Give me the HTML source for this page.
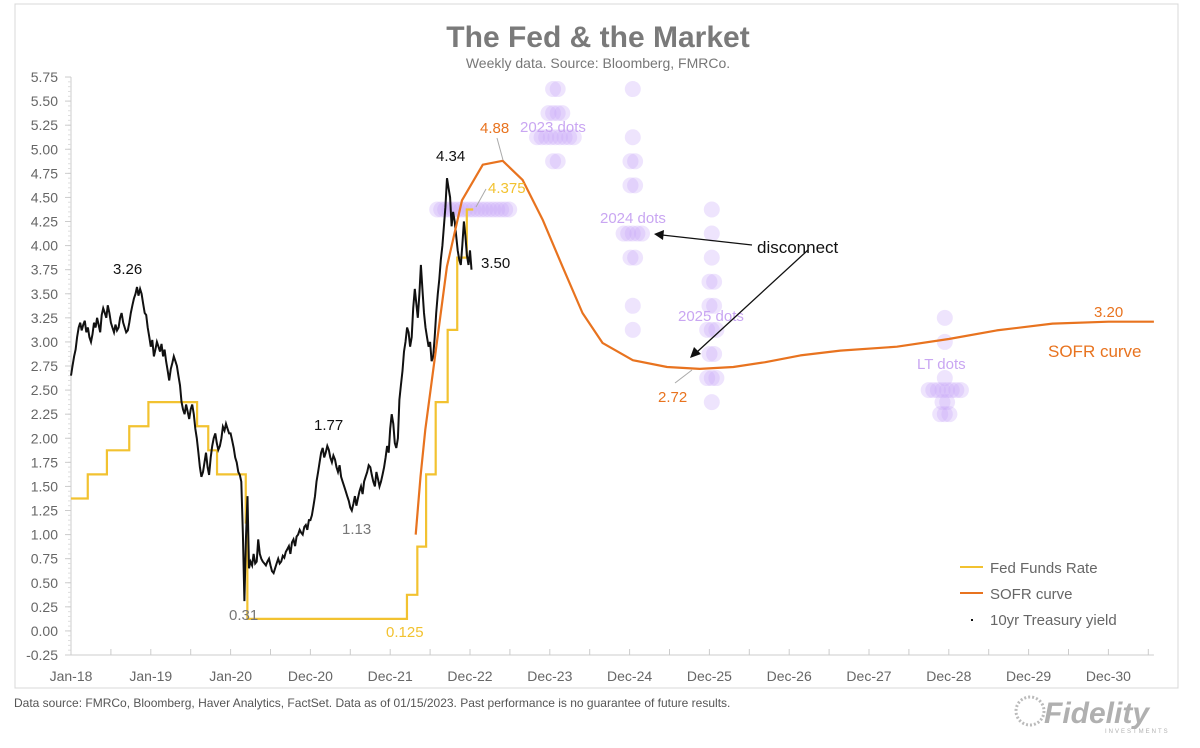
<!DOCTYPE html>
<html><head><meta charset="utf-8">
<style>
html,body{margin:0;padding:0;background:#fff;}
body{width:1200px;height:743px;overflow:hidden;position:relative;font-family:"Liberation Sans",sans-serif;}
svg text{font-family:"Liberation Sans",sans-serif;}
</style></head>
<body>
<svg id="chart" width="1200" height="743" viewBox="0 0 1200 743" xmlns="http://www.w3.org/2000/svg">
<rect x="15" y="4" width="1163" height="684" fill="none" stroke="#d8d8d8" stroke-width="1"/>
<text x="598" y="47" text-anchor="middle" font-size="30" font-weight="bold" fill="#7a7a7a">The Fed &amp; the Market</text>
<text x="598" y="68" text-anchor="middle" font-size="14" fill="#777">Weekly data.  Source: Bloomberg, FMRCo.</text>
<g id="axes"></g>
<g id="dots"></g>
<g id="series"></g>
<g id="annots">
<text x="113" y="274" font-size="15" fill="#111">3.26</text>
<text x="314" y="430" font-size="15" fill="#111">1.77</text>
<text x="342" y="534" font-size="15" fill="#777">1.13</text>
<text x="229" y="620" font-size="15" fill="#777">0.31</text>
<text x="386" y="637" font-size="15" fill="#f2c230">0.125</text>
<text x="436" y="161" font-size="15" fill="#111">4.34</text>
<line x1="486" y1="189" x2="476" y2="207" stroke="#aaa"/>
<text x="488" y="193" font-size="15" fill="#f2c230">4.375</text>
<text x="481" y="268" font-size="15" fill="#111">3.50</text>
<line x1="497" y1="138" x2="503" y2="160" stroke="#aaa"/>
<text x="480" y="133" font-size="15" fill="#e8731f">4.88</text>
<line x1="675" y1="383" x2="692" y2="370" stroke="#aaa"/>
<text x="658" y="402" font-size="15" fill="#e8731f">2.72</text>
<text x="1094" y="317" font-size="15" fill="#e8731f">3.20</text>
<text x="1048" y="357" font-size="17" fill="#e8731f">SOFR curve</text>
<text x="520" y="132" font-size="15" fill="#c9a6f2">2023 dots</text>
<text x="600" y="223" font-size="15" fill="#c9a6f2">2024 dots</text>
<text x="678" y="321" font-size="15" fill="#c9a6f2">2025 dots</text>
<text x="917" y="369" font-size="15" fill="#c9a6f2">LT dots</text>
<text x="757" y="253" font-size="17" fill="#111">disconnect</text>
<line x1="752" y1="245" x2="662" y2="235" stroke="#111" stroke-width="1.3"/>
<polygon points="654,234 664,230 663,240" fill="#111"/>
<line x1="808" y1="250" x2="697" y2="352" stroke="#111" stroke-width="1.3"/>
<polygon points="690,358 694,347 701,354" fill="#111"/>
</g>
<g id="legend">
<line x1="960" y1="567" x2="983" y2="567" stroke="#f2c230" stroke-width="2"/>
<text x="990" y="573" font-size="15" fill="#666">Fed Funds Rate</text>
<line x1="960" y1="593" x2="983" y2="593" stroke="#e8731f" stroke-width="2"/>
<text x="990" y="599" font-size="15" fill="#666">SOFR curve</text>
<rect x="971" y="619" width="2" height="2" fill="#111"/>
<text x="990" y="625" font-size="15" fill="#666">10yr Treasury yield</text>
</g>
<text x="14" y="707" font-size="12" fill="#555">Data source: FMRCo, Bloomberg, Haver Analytics, FactSet. Data as of 01/15/2023. Past performance is no guarantee of future results.</text>
<g>
<circle cx="1030" cy="711" r="14" fill="none" stroke="#bbb" stroke-width="3" stroke-dasharray="2 2"/>
<text x="1044" y="723" font-size="30" font-weight="bold" font-style="italic" fill="#b0b0b0">Fidelity</text>
<text x="1105" y="733" font-size="6" fill="#b0b0b0" letter-spacing="2">INVESTMENTS</text>
</g>
</svg>
<script>
const yTicks=[-0.25,0,0.25,0.5,0.75,1,1.25,1.5,1.75,2,2.25,2.5,2.75,3,3.25,3.5,3.75,4,4.25,4.5,4.75,5,5.25,5.5,5.75];
const xLabels=["Jan-18","Jan-19","Jan-20","Dec-20","Dec-21","Dec-22","Dec-23","Dec-24","Dec-25","Dec-26","Dec-27","Dec-28","Dec-29","Dec-30"];
const fedT=[0,0.21,0.45,0.73,0.97,1.58,1.72,1.83,2.19,2.21,4.21,4.34,4.45,4.57,4.72,4.84,4.96,5.04];
const fedV=[1.375,1.625,1.875,2.125,2.375,2.125,1.875,1.625,1.125,0.125,0.375,0.875,1.625,2.375,3.125,3.875,4.375,4.375];
const sofrT=[4.32,4.38,4.44,4.56,4.71,4.90,5.16,5.41,5.66,5.91,6.16,6.41,6.66,7.04,7.47,7.88,8.30,8.70,9.14,9.64,10.35,11.0,11.6,12.3,13.0,13.57];
const sofrV=[1.00,1.60,2.09,2.84,3.78,4.47,4.84,4.88,4.68,4.27,3.78,3.30,2.99,2.81,2.74,2.72,2.74,2.79,2.86,2.91,2.95,3.03,3.12,3.19,3.21,3.21];
const y2018=[2.65,2.75,2.85,2.92,3.05,3.15,3.20,3.12,3.18,3.22,3.10,3.15,3.05,3.00,3.08,3.20,3.15,3.25,3.18,3.10,3.28,3.35,3.30,3.25,3.38,3.30,3.20,3.15,3.10,3.18,3.12,3.15,3.25,3.30,3.20,3.15,3.10,3.12,3.20,3.30,3.38,3.45,3.50,3.57,3.48,3.55,3.50,3.40,3.30,3.28,3.15,3.05];
const y2019=[2.95,3.02,2.85,2.92,3.00,2.95,2.90,2.98,2.85,2.92,2.80,2.70,2.60,2.72,2.78,2.85,2.80,2.75,2.65,2.55,2.38,2.30,2.25,2.35,2.28,2.20,2.30,2.35,2.25,2.10,2.00,1.85,1.70,1.60,1.65,1.75,1.85,1.70,1.62,1.80,1.92,2.00,2.05,1.95,1.88,1.92,2.00,2.12,2.08,2.15,2.10,2.05];
const y2020=[2.05,1.98,1.90,1.80,1.75,1.65,1.62,1.55,1.00,0.31,0.95,1.40,0.65,0.72,0.68,0.80,0.70,0.72,0.95,0.80,0.75,0.72,0.70,0.68,0.72,0.75,0.68,0.62,0.60,0.65,0.70,0.75,0.70,0.72,0.78,0.76,0.82,0.85,0.88,0.80,0.92,0.95,0.88,0.98,1.00,1.05,1.02,1.00,1.08,1.10,1.05,1.15];
const y2021=[1.15,1.20,1.30,1.40,1.55,1.65,1.75,1.85,1.90,1.80,1.85,1.92,1.88,1.80,1.75,1.82,1.78,1.70,1.65,1.72,1.60,1.55,1.50,1.45,1.40,1.35,1.28,1.25,1.32,1.40,1.30,1.38,1.45,1.50,1.42,1.55,1.60,1.65,1.72,1.70,1.62,1.55,1.50,1.65,1.58,1.50,1.55,1.62,1.70,1.80,1.92,1.85];
const y2022=[2.10,2.25,2.15,1.95,1.90,2.00,2.40,2.55,2.70,2.90,3.00,3.15,3.10,2.95,3.05,3.35,3.55,3.40,3.25,3.50,3.80,3.55,3.30,3.15,3.05,2.95,3.00,2.80,2.85,3.05,3.30,3.50,3.65,3.85,4.00,4.20,4.40,4.70,4.60,4.50,4.20,4.35,4.25,4.10,3.95,3.85,3.80,4.00,4.25,4.10,3.90,3.80];
const y2023=[3.95,3.75];
const dotLevels2023=[5.625,5.375,5.125,4.875];
const dotCounts2023=[2,4,9,2];
const dotLevels2024=[5.625,5.125,4.875,4.625,4.125,3.875,3.375,3.125];
const dotCounts2024=[1,1,2,2,5,2,1,1];
const dotLevels2025=[4.375,4.125,3.875,3.625,3.375,3.125,2.875,2.625,2.375];
const dotCounts2025=[1,1,1,2,2,3,2,3,1];
const dotLevelsLT=[3.25,3.0,2.625,2.5,2.375,2.25];
const dotCountsLT=[1,1,1,8,2,3];
const dotLevelsNow=[4.375];
const dotCountsNow=[19];

const NS="http://www.w3.org/2000/svg";
const X=t=>71+79.8*t;
const Y=v=>655-(v+0.25)*96.33;
function mk(tag,parent,attrs){const e=document.createElementNS(NS,tag);for(const k in attrs)e.setAttribute(k,attrs[k]);parent.appendChild(e);return e;}
const axes=document.getElementById('axes');
let e;
e=mk('line',axes,{x1:X(0),y1:Y(-0.25),x2:X(0),y2:Y(5.75),stroke:'#ccc'});


e=mk('line',axes,{x1:X(0),y1:Y(-0.25),x2:X(13.57),y2:Y(-0.25),stroke:'#ccc'});


for(let i=0;i<=120;i++){const v=-0.25+i*0.05;
e=mk('line',axes,{x1:X(0)-3,y1:Y(v),x2:X(0),y2:Y(v),stroke:'#ddd'});

}
yTicks.forEach(v=>{
e=mk('line',axes,{x1:X(0)-6,y1:Y(v),x2:X(0),y2:Y(v),stroke:'#ccc'});


e=mk('text',axes,{x:58,y:Y(v)+5,'text-anchor':'end','font-size':14,fill:'#666'});
e.textContent=v.toFixed(2);

});
xLabels.forEach((s,i)=>{
e=mk('line',axes,{x1:X(i),y1:Y(-0.25),x2:X(i),y2:Y(-0.25)-6,stroke:'#ccc'});


e=mk('line',axes,{x1:X(i+0.5),y1:Y(-0.25),x2:X(i+0.5),y2:Y(-0.25)-6,stroke:'#ccc'});


e=mk('text',axes,{x:X(i),y:681,'text-anchor':'middle','font-size':14,fill:'#666'});
e.textContent=s;

});

const dots=document.getElementById('dots');
function column(t,levels,counts,name,sp){levels.forEach((v,j)=>{const n=counts[j];for(let i=0;i<n;i++){
e=mk('circle',dots,{cx:X(t)+(i-(n-1)/2)*sp,cy:Y(v),r:8,fill:'rgba(200,165,248,0.3)'});

}});}
column(5.04,dotLevelsNow,dotCountsNow,'dot-current',4.0);
column(6.07,dotLevels2023,dotCounts2023,'dot-2023',4.6);
column(7.04,dotLevels2024,dotCounts2024,'dot-2024',4.6);
column(8.03,dotLevels2025,dotCounts2025,'dot-2025',4.6);
column(10.95,dotLevelsLT,dotCountsLT,'dot-lt',4.6);

const ser=document.getElementById('series');
let d='';fedT.forEach((t,i)=>{if(i===0)d+='M'+X(t)+','+Y(fedV[i]);else d+='H'+X(t)+'V'+Y(fedV[i]);});
e=mk('path',ser,{d:d,fill:'none',stroke:'#f2c230','stroke-width':2.2});


const ten=[].concat(y2018,y2019,y2020,y2021,y2022,y2023);
let p=ten.map((v,i)=>X(i/52).toFixed(1)+','+Y(v).toFixed(1)).join(' ');
e=mk('polyline',ser,{points:p,fill:'none',stroke:'#111','stroke-width':2});


let sp=sofrT.map((t,i)=>X(t).toFixed(1)+','+Y(sofrV[i]).toFixed(1)).join(' ');
e=mk('polyline',ser,{points:sp,fill:'none',stroke:'#e8731f','stroke-width':2.2,'stroke-linejoin':'round'});


</script>
</body></html>
